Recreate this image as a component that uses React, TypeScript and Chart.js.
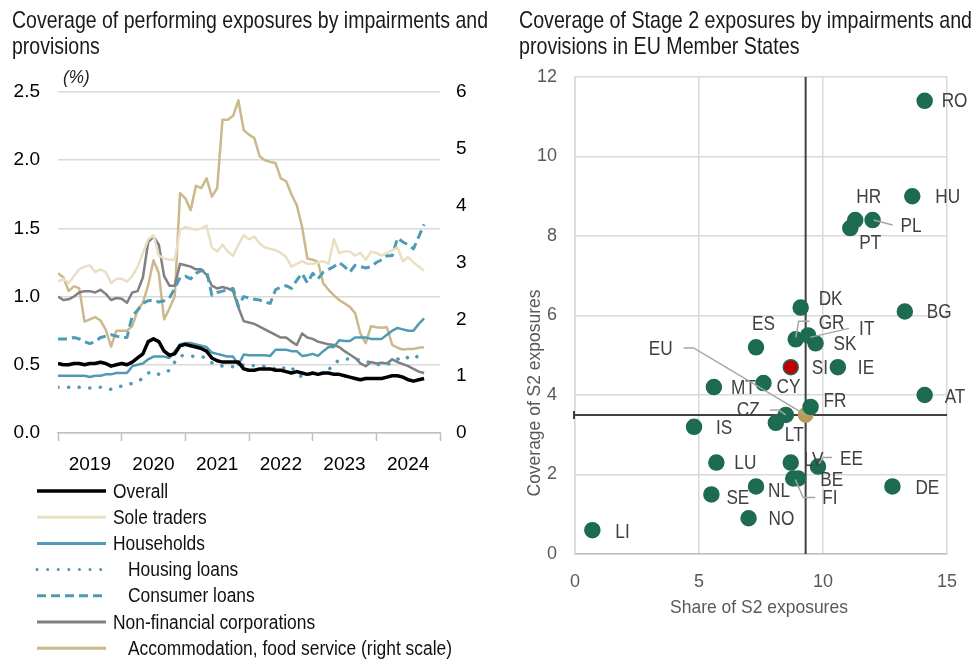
import React, { useEffect, useRef } from 'react';
import { Chart, registerables } from 'chart.js';

Chart.register(...registerables);

const FONT = '"Liberation Sans", Arial, sans-serif';

// ---------- Left chart data (monthly, Jan 2019 onward) ----------
const startYear = 2019;
const yearTicks = [2019, 2020, 2021, 2022, 2023, 2024];

const overall = [
  0.51, 0.50, 0.50, 0.51, 0.51, 0.50, 0.51, 0.51, 0.52, 0.51,
  0.49, 0.50, 0.51, 0.50, 0.52, 0.55, 0.58, 0.67, 0.69, 0.67,
  0.60, 0.57, 0.58, 0.64, 0.65, 0.64, 0.63, 0.62, 0.60, 0.55,
  0.53, 0.52, 0.52, 0.52, 0.52, 0.47, 0.46, 0.46, 0.47, 0.47,
  0.47, 0.46, 0.46, 0.45, 0.44, 0.45, 0.44, 0.43, 0.44, 0.43,
  0.44, 0.44, 0.43, 0.43, 0.42, 0.41, 0.40, 0.39, 0.40, 0.40,
  0.40, 0.40, 0.41, 0.42, 0.42, 0.41, 0.39, 0.38, 0.39, 0.40,
];
const soleTraders = [
  1.11, 1.13, 1.10, 1.15, 1.20, 1.22, 1.23, 1.18, 1.20, 1.18,
  1.10, 1.13, 1.13, 1.11, 1.15, 1.22, 1.32, 1.42, 1.45, 1.30,
  1.28, 1.27, 1.27, 1.49, 1.51, 1.50, 1.49, 1.50, 1.52, 1.36,
  1.33, 1.38, 1.33, 1.30, 1.38, 1.45, 1.42, 1.44, 1.39, 1.36,
  1.35, 1.34, 1.32, 1.29, 1.22, 1.24, 1.26, 1.24, 1.24, 1.25,
  1.26, 1.24, 1.42, 1.32, 1.33, 1.33, 1.30, 1.32, 1.27, 1.33,
  1.32, 1.30, 1.32, 1.34, 1.36, 1.26, 1.29, 1.25, 1.22, 1.19,
];
const households = [
  0.42, 0.42, 0.42, 0.42, 0.42, 0.42, 0.41, 0.42, 0.42, 0.43,
  0.43, 0.44, 0.44, 0.44, 0.49, 0.50, 0.51, 0.54, 0.56, 0.56,
  0.56, 0.55, 0.60, 0.65, 0.66, 0.66, 0.65, 0.64, 0.63, 0.59,
  0.58, 0.57, 0.56, 0.56, 0.50, 0.575, 0.57, 0.57, 0.57, 0.57,
  0.565, 0.61, 0.61, 0.61, 0.60, 0.60, 0.565, 0.57, 0.58, 0.565,
  0.60, 0.63, 0.63, 0.68, 0.675, 0.675, 0.70, 0.70, 0.70, 0.69,
  0.69, 0.69, 0.72, 0.75, 0.77, 0.76, 0.75, 0.75, 0.80, 0.84,
];
const housingLoans = [
  0.335, 0.335, 0.335, 0.33, 0.335, 0.335, 0.33, 0.335, 0.335, 0.33,
  0.32, 0.33, 0.345, 0.35, 0.365, 0.38, 0.40, 0.44, 0.45, 0.43,
  0.44, 0.46, 0.52, 0.565, 0.57, 0.565, 0.56, 0.56, 0.55, 0.515,
  0.50, 0.49, 0.485, 0.485, 0.49, 0.50, 0.49, 0.495, 0.49, 0.49,
  0.48, 0.47, 0.46, 0.49, 0.48, 0.44, 0.41, 0.43, 0.435, 0.435,
  0.44, 0.46, 0.515, 0.53, 0.54, 0.545, 0.54, 0.535, 0.53, 0.51,
  0.50, 0.505, 0.505, 0.51, 0.54, 0.565, 0.55, 0.54, 0.57, 0.60,
];
const consumerLoans = [
  0.69, 0.69, 0.69, 0.70, 0.69, 0.67, 0.655, 0.67, 0.70, 0.71,
  0.72, 0.71, 0.70, 0.70, 0.86, 0.90, 0.95, 0.97, 0.975, 0.96,
  0.97, 0.99, 1.06, 1.14, 1.15, 1.13, 1.17, 1.19, 1.19, 1.01,
  1.03, 1.04, 1.05, 1.06, 0.93, 1.00, 0.99, 0.98, 0.975, 0.96,
  0.95, 1.05, 1.07, 1.08, 1.06, 1.12, 1.17, 1.10, 1.17, 1.13,
  1.18, 1.20, 1.22, 1.25, 1.22, 1.18, 1.23, 1.22, 1.21, 1.22,
  1.25, 1.27, 1.30, 1.30, 1.43, 1.40, 1.38, 1.35, 1.44, 1.53,
];
const nonFinancialCorps = [
  1.00, 0.975, 0.98, 1.00, 1.03, 1.04, 1.04, 1.03, 1.05, 1.02,
  0.975, 0.99, 0.985, 0.955, 1.03, 1.04, 1.14, 1.40, 1.44, 1.38,
  1.15, 1.08, 1.08, 1.24, 1.23, 1.22, 1.20, 1.20, 1.16, 1.08,
  1.06, 1.07, 1.06, 1.04, 0.92, 0.82, 0.81, 0.80, 0.78, 0.76,
  0.74, 0.72, 0.70, 0.70, 0.67, 0.645, 0.73, 0.70, 0.69, 0.67,
  0.66, 0.65, 0.645, 0.63, 0.60, 0.575, 0.55, 0.51, 0.49, 0.52,
  0.51, 0.515, 0.51, 0.54, 0.52, 0.505, 0.49, 0.47, 0.45, 0.44,
];
const accommodation = [
  2.81, 2.74, 2.50, 2.58, 2.55, 1.96, 2.00, 2.04, 1.98, 1.82,
  1.52, 1.80, 1.80, 1.80, 1.88, 2.16, 2.29, 2.60, 3.04, 2.81,
  2.00, 2.19, 2.40, 4.22, 4.13, 3.92, 4.35, 4.31, 4.48, 4.16,
  4.31, 5.51, 5.51, 5.58, 5.85, 5.33, 5.25, 5.19, 4.87, 4.80,
  4.77, 4.75, 4.48, 4.43, 4.20, 4.01, 3.63, 3.07, 3.05, 3.01,
  2.63, 2.52, 2.42, 2.34, 2.28, 2.22, 2.11, 1.75, 1.58, 1.88,
  1.86, 1.85, 1.86, 1.55, 1.50, 1.47, 1.48, 1.48, 1.50, 1.51,
];

const seriesNames = [
  'Overall',
  'Sole traders',
  'Households',
  'Housing loans',
  'Consumer loans',
  'Non-financial corporations',
  'Accommodation, food service (right scale)',
];

// ---------- Right chart data ----------
const countries = ['RO', 'HU', 'HR', 'PT', 'PL', 'DK', 'BG', 'GR', 'IT', 'SK', 'ES', 'SI', 'IE', 'MT', 'CY', 'AT', 'FR', 'CZ', 'LT', 'IS', 'LU', 'LV', 'EE', 'BE', 'FI', 'DE', 'NL', 'SE', 'NO', 'LI'];
const shareS2 = [14.1, 13.6, 11.3, 11.1, 12.0, 9.1, 13.3, 8.9, 9.4, 9.7, 7.3, 8.7, 10.6, 5.6, 7.6, 14.1, 9.5, 8.5, 8.1, 4.8, 5.7, 8.7, 9.8, 9.0, 8.8, 12.8, 7.3, 5.5, 7.0, 0.7];
const coverageS2 = [11.4, 9.0, 8.4, 8.2, 8.4, 6.2, 6.1, 5.4, 5.5, 5.3, 5.2, 4.7, 4.7, 4.2, 4.3, 4.0, 3.7, 3.5, 3.3, 3.2, 2.3, 2.3, 2.2, 1.9, 1.9, 1.7, 1.7, 1.5, 0.9, 0.6];
const euShare = 9.3;
const euCoverage = 3.5;

// label placement (pixel offsets from the point) and leader lines
const labelLayout: Record<string, { dx: number; dy: number; align?: CanvasTextAlign; leader?: number[][] }> = {
  RO: { dx: 17, dy: 0 },
  HU: { dx: 23, dy: 0 },
  HR: { dx: 1, dy: -24 },
  PT: { dx: 9, dy: 14 },
  PL: { dx: 28, dy: 5, leader: [[1, 0], [20, 5]] },
  DK: { dx: 18, dy: -9 },
  BG: { dx: 22, dy: 0 },
  GR: { dx: 23, dy: -17, leader: [[0, -2], [3, -18], [14, -18]] },
  IT: { dx: 51, dy: -7, leader: [[2, 2], [41, -7]] },
  SK: { dx: 18, dy: 0 },
  ES: { dx: -4, dy: -24 },
  SI: { dx: 21, dy: 0 },
  IE: { dx: 20, dy: 0 },
  MT: { dx: 17, dy: 0 },
  CY: { dx: 13, dy: 3 },
  AT: { dx: 20, dy: 1 },
  FR: { dx: 13, dy: -6 },
  CZ: { dx: -49, dy: -5, leader: [[0, 0], [-7, -5], [-16, -5]] },
  LT: { dx: 9, dy: 12 },
  IS: { dx: 22, dy: 1 },
  LU: { dx: 18, dy: 0 },
  LV: { dx: 13, dy: -3 },
  EE: { dx: 22, dy: -8, leader: [[1, -3], [5, -9], [14, -9]] },
  BE: { dx: 22, dy: 1 },
  FI: { dx: 29, dy: 19, leader: [[2, 1], [10, 19], [22, 19]] },
  DE: { dx: 23, dy: 1 },
  NL: { dx: 12, dy: 4 },
  SE: { dx: 15, dy: 3 },
  NO: { dx: 20, dy: 0 },
  LI: { dx: 23, dy: 1 },
  EU: { dx: -133, dy: -66, align: 'right', leader: [[-122, -67], [-112, -67], [0, 0]] },
};

const leftTitle = ['Coverage of performing exposures by impairments and', 'provisions'];
const rightTitle = ['Coverage of Stage 2 exposures by impairments and', 'provisions in EU Member States'];

const TEAL = '#4f9bb5';
const seriesStyles = [
  { color: '#000000', width: 3.5, dash: [] as number[], cap: 'butt' as CanvasLineCap },
  { color: '#e9dfc5', width: 2.5, dash: [], cap: 'butt' as CanvasLineCap },
  { color: TEAL, width: 2.5, dash: [], cap: 'butt' as CanvasLineCap },
  { color: TEAL, width: 3.5, dash: [0.1, 10.5], cap: 'round' as CanvasLineCap },
  { color: TEAL, width: 3, dash: [9, 5], cap: 'butt' as CanvasLineCap },
  { color: '#808080', width: 2.5, dash: [], cap: 'butt' as CanvasLineCap },
  { color: '#cbb98c', width: 2.5, dash: [], cap: 'butt' as CanvasLineCap },
];
const legendIndent = [false, false, false, true, true, false, true];

function toPoints(values: number[]) {
  return values.map((v, i) => ({ x: startYear + i / 12, y: v }));
}

// draws text squeezed horizontally (narrow type look)
function narrowText(ctx: CanvasRenderingContext2D, text: string, x: number, y: number, sx: number, align: CanvasTextAlign = 'left') {
  ctx.save();
  ctx.translate(x, y);
  ctx.scale(sx, 1);
  ctx.textAlign = align;
  ctx.fillText(text, 0, 0);
  ctx.restore();
}

function fitText(ctx: CanvasRenderingContext2D, text: string, x: number, y: number, width: number) {
  const w = ctx.measureText(text).width;
  narrowText(ctx, text, x, y, Math.min(1, width / w));
  return Math.min(1, width / w);
}

const leftDecor = {
  id: 'leftDecor',
  afterDraw(chart: any) {
    const ctx = chart.ctx as CanvasRenderingContext2D;
    ctx.save();
    ctx.fillStyle = '#1a1a1a';
    ctx.textBaseline = 'alphabetic';
    ctx.font = `24px ${FONT}`;
    const s = fitText(ctx, leftTitle[0], 12, 28, 476);
    narrowText(ctx, leftTitle[1], 12, 54, s);
    ctx.font = `italic 19px ${FONT}`;
    narrowText(ctx, '(%)', 63, 83, 0.9);
    ctx.font = `20px ${FONT}`;
    ctx.textBaseline = 'middle';
    seriesNames.forEach((name, k) => {
      const st = seriesStyles[k];
      const y = 491 + k * 26.2;
      ctx.strokeStyle = st.color;
      ctx.lineWidth = k === 0 ? 3.5 : 3;
      ctx.setLineDash(st.dash);
      ctx.lineCap = st.cap;
      ctx.beginPath();
      ctx.moveTo(37, y);
      ctx.lineTo(106, y);
      ctx.stroke();
      ctx.setLineDash([]);
      ctx.fillStyle = '#111111';
      narrowText(ctx, name, legendIndent[k] ? 128 : 113, y + 1, 0.87);
    });
    ctx.restore();
  },
};

const rightDecor = {
  id: 'rightDecor',
  beforeDatasetsDraw(chart: any) {
    const ctx = chart.ctx as CanvasRenderingContext2D;
    const xs = chart.scales.x;
    const ys = chart.scales.y;
    const area = chart.chartArea;
    const vx = xs.getPixelForValue(euShare);
    const hy = ys.getPixelForValue(euCoverage);
    ctx.save();
    ctx.strokeStyle = '#404040';
    ctx.lineWidth = 2;
    ctx.beginPath();
    ctx.moveTo(vx, area.top);
    ctx.lineTo(vx, area.bottom);
    ctx.moveTo(area.left - 2, hy);
    ctx.lineTo(area.right, hy);
    ctx.moveTo(area.left - 1, hy - 4);
    ctx.lineTo(area.left - 1, hy + 4);
    ctx.stroke();
    ctx.restore();
  },
  afterDatasetsDraw(chart: any) {
    const ctx = chart.ctx as CanvasRenderingContext2D;
    const xs = chart.scales.x;
    const ys = chart.scales.y;
    const all = [
      ...countries.map((c, i) => ({ code: c, x: shareS2[i], y: coverageS2[i] })),
      { code: 'EU', x: euShare, y: euCoverage },
    ];
    ctx.save();
    ctx.font = `20px ${FONT}`;
    ctx.textBaseline = 'middle';
    all.forEach((p) => {
      const lay = labelLayout[p.code];
      if (!lay) return;
      const px = xs.getPixelForValue(p.x);
      const py = ys.getPixelForValue(p.y);
      if (lay.leader) {
        ctx.strokeStyle = '#a6a6a6';
        ctx.lineWidth = 1.5;
        ctx.beginPath();
        lay.leader.forEach(([lx, ly], k) => {
          if (k === 0) ctx.moveTo(px + lx, py + ly);
          else ctx.lineTo(px + lx, py + ly);
        });
        ctx.stroke();
      }
      ctx.fillStyle = '#404040';
      narrowText(ctx, p.code, px + lay.dx, py + lay.dy + 1, 0.86, lay.align || 'left');
    });
    ctx.restore();
  },
  afterDraw(chart: any) {
    const ctx = chart.ctx as CanvasRenderingContext2D;
    const area = chart.chartArea;
    ctx.save();
    ctx.fillStyle = '#1a1a1a';
    ctx.textBaseline = 'alphabetic';
    ctx.font = `24px ${FONT}`;
    const s = fitText(ctx, rightTitle[0], 29, 28, 453);
    narrowText(ctx, rightTitle[1], 29, 54, s);
    ctx.fillStyle = '#595959';
    ctx.font = `19px ${FONT}`;
    ctx.textBaseline = 'middle';
    narrowText(ctx, 'Share of S2 exposures', (area.left + area.right) / 2 - 2, area.bottom + 54, 0.92, 'center');
    ctx.translate(area.left - 40, 393);
    ctx.rotate(-Math.PI / 2);
    narrowText(ctx, 'Coverage of S2 exposures', 0, 0, 0.92, 'center');
    ctx.restore();
  },
};

export default function App() {
  const leftRef = useRef<HTMLCanvasElement>(null);
  const rightRef = useRef<HTMLCanvasElement>(null);

  useEffect(() => {
    const seriesData = [overall, soleTraders, households, housingLoans, consumerLoans, nonFinancialCorps, accommodation];
    const left = new Chart(leftRef.current as HTMLCanvasElement, {
      type: 'line',
      data: {
        datasets: seriesData.map((vals, k) => ({
          label: seriesNames[k],
          data: toPoints(vals),
          borderColor: seriesStyles[k].color,
          borderWidth: seriesStyles[k].width,
          borderDash: seriesStyles[k].dash,
          borderCapStyle: seriesStyles[k].cap,
          borderJoinStyle: 'round',
          pointRadius: 0,
          tension: 0,
          fill: false,
          yAxisID: k === 6 ? 'y1' : 'y',
        })) as any,
      },
      options: {
        responsive: false,
        maintainAspectRatio: false,
        animation: false,
        layout: { padding: { top: 92, left: 0, right: 0, bottom: 0 } },
        plugins: { legend: { display: false }, tooltip: { enabled: false }, title: { display: false } },
        scales: {
          x: {
            type: 'linear',
            min: 2019,
            max: 2025,
            afterBuildTicks: (axis: any) => {
              const t: any[] = [];
              yearTicks.forEach((y) => {
                t.push({ value: y });
                t.push({ value: y + 0.5 });
              });
              t.push({ value: 2025 });
              axis.ticks = t;
            },
            afterFit: (axis: any) => {
              axis.height = 226;
            },
            ticks: {
              autoSkip: false,
              maxRotation: 0,
              padding: 12,
              color: '#000',
              font: { family: FONT, size: 19 },
              callback: (v: any) => (Number.isInteger(v) ? '' : String(Math.floor(v))),
            },
            grid: {
              drawOnChartArea: false,
              drawTicks: true,
              tickLength: 8,
              tickWidth: 1.5,
              tickColor: (ctx: any) => (ctx.tick && Number.isInteger(ctx.tick.value) ? '#bfbfbf' : 'rgba(0,0,0,0)'),
            },
            border: { color: '#bfbfbf', width: 1.5 },
          },
          y: {
            position: 'left',
            min: 0,
            max: 2.5,
            afterFit: (axis: any) => {
              axis.width = 58;
            },
            ticks: {
              stepSize: 0.5,
              padding: 18,
              color: '#000',
              font: { family: FONT, size: 19 },
              callback: (v: any) => Number(v).toFixed(1),
            },
            grid: { color: '#d9d9d9', lineWidth: 1.5, drawTicks: false },
            border: { display: false },
          },
          y1: {
            position: 'right',
            min: 0,
            max: 6,
            afterFit: (axis: any) => {
              axis.width = 50;
            },
            ticks: {
              stepSize: 1,
              padding: 16,
              color: '#000',
              font: { family: FONT, size: 19 },
            },
            grid: { drawOnChartArea: false, drawTicks: false },
            border: { display: false },
          },
        },
      } as any,
      plugins: [leftDecor],
    });

    const right = new Chart(rightRef.current as HTMLCanvasElement, {
      type: 'scatter',
      data: {
        datasets: [
          {
            label: 'Countries',
            data: countries.map((c, i) => ({ x: shareS2[i], y: coverageS2[i] })),
            pointBackgroundColor: countries.map((c) => (c === 'SI' ? '#c00000' : '#1d6b50')),
            pointBorderColor: '#1d6b50',
            pointBorderWidth: 1.5,
            pointRadius: 7.5,
          },
          {
            label: 'EU',
            data: [{ x: euShare, y: euCoverage }],
            pointBackgroundColor: '#b59b5c',
            pointBorderColor: '#b59b5c',
            pointRadius: 7.5,
          },
        ] as any,
      },
      options: {
        responsive: false,
        maintainAspectRatio: false,
        animation: false,
        layout: { padding: { top: 77, left: 0, right: 22, bottom: 0 } },
        plugins: { legend: { display: false }, tooltip: { enabled: false } },
        scales: {
          x: {
            type: 'linear',
            min: 0,
            max: 15,
            afterFit: (axis: any) => {
              axis.height = 105;
            },
            ticks: {
              stepSize: 5,
              padding: 17,
              color: '#595959',
              font: { family: FONT, size: 18 },
            },
            grid: { color: '#d9d9d9', lineWidth: 1.5, drawTicks: false },
            border: { color: '#bfbfbf', width: 1.5 },
          },
          y: {
            type: 'linear',
            min: 0,
            max: 12,
            afterFit: (axis: any) => {
              axis.width = 85;
            },
            ticks: {
              stepSize: 2,
              padding: 18,
              color: '#595959',
              font: { family: FONT, size: 18 },
            },
            grid: { color: '#d9d9d9', lineWidth: 1.5, drawTicks: false },
            border: { color: '#d9d9d9', width: 1.5 },
          },
        },
      } as any,
      plugins: [rightDecor],
    });

    return () => {
      left.destroy();
      right.destroy();
    };
  }, []);

  return (
    <div style={{ position: 'absolute', left: 0, top: 0, width: 974, height: 659, background: '#ffffff', overflow: 'hidden' }}>
      <canvas ref={leftRef} width={490} height={659} style={{ position: 'absolute', left: 0, top: 0, width: 490, height: 659 }} />
      <canvas ref={rightRef} width={484} height={659} style={{ position: 'absolute', left: 490, top: 0, width: 484, height: 659 }} />
    </div>
  );
}
